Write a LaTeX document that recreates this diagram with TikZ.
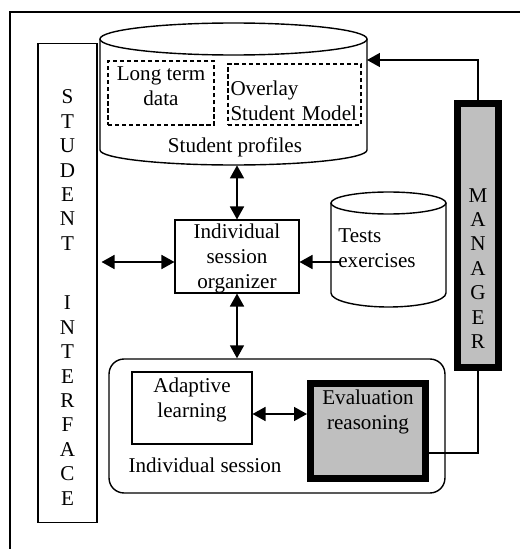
\documentclass[tikz,border=0pt]{standalone}
\usepackage{fontspec}
\setmainfont{Liberation Serif}
\usetikzlibrary{arrows.meta}

\tikzset{
  box/.style={draw, line width=0.6pt, align=center, inner sep=1pt},
  dashbox/.style={draw, dash pattern=on 2.4pt off 1.6pt, line width=0.6pt, align=center, inner sep=1pt},
  heavy/.style={draw, line width=4pt, fill=black!25, align=center},
  letters/.style={align=center, inner sep=0pt, font=\fontsize{12}{13.9}\selectfont},
  drum/.style={line width=0.8pt},
  arr/.style={-{Triangle[length=0.26cm,width=0.28cm]}, line width=0.9pt},
  dblarr/.style={{Triangle[length=0.26cm,width=0.28cm]}-{Triangle[length=0.26cm,width=0.28cm]}, line width=0.9pt}
}

\begin{document}
\begin{tikzpicture}[x=0.02cm, y=0.02cm, font=\fontsize{12}{14.2}\selectfont]
  \useasboundingbox (0,0) rectangle (520,549);
  % Marco
  \draw[line width=1.7pt] (10,0) -- (10,537) -- (520,537);

  % Nodos
  \draw[drum] (233.5,510) ellipse [x radius=133.5, y radius=16];
  \draw[drum] (100,510) -- (100,399) arc [start angle=180, end angle=360, x radius=133.5, y radius=15] -- (367,510);
  \node[minimum width=5.34cm, minimum height=2.84cm] (prof) at (233.5,455) {};
  \node[dashbox, minimum width=2.12cm, minimum height=1.28cm, text depth=8pt] (ltd) at (161,456) {Long term\\data};
  \node[dashbox, minimum width=2.66cm, minimum height=1.22cm, text depth=7pt, align=left, text width=2.56cm] (osm) at (294.5,454.5) {Overlay\\Student Model};
  \node (proflbl) at (235,402) {Student profiles};

  \draw[drum] (388.5,346) ellipse [x radius=57.5, y radius=11];
  \draw[drum] (331,346) -- (331,256) arc [start angle=180, end angle=360, x radius=57.5, y radius=14] -- (446,346);
  \node[align=left] (tests) at (377,300.5) {Tests\\exercises};
  \coordinate (tstin) at (340,287);

  \node[box, minimum width=1.18cm, minimum height=9.6cm] (ui) at (67.5,266) {};
  \node[letters] (uitxt) at (67.5,251.5) {S\\T\\U\\D\\E\\N\\T\\[20pt]I\\N\\T\\E\\R\\F\\A\\C\\E};

  \node[box, minimum width=2.48cm, minimum height=1.46cm, text depth=-3pt] (org) at (237,292.5) {Individual\\session\\organizer};

  \node[draw, line width=0.8pt, rounded corners=0.3cm, minimum width=6.72cm, minimum height=2.68cm] (sess) at (277,123) {};
  \node[box, minimum width=2.4cm, minimum height=1.44cm, text depth=12pt] (adapt) at (192,141) {Adaptive\\learning};
  \node (sesslbl) at (205,84) {Individual session};
  \node[heavy, minimum width=2.3cm, minimum height=1.9cm, text depth=24pt] (eval) at (368,118) {Evaluation\\reasoning};

  \node[heavy, minimum width=0.82cm, minimum height=5.28cm] (mgr) at (478,313.5) {};
  \node[letters] (mgrtxt) at (478,280.5) {M\\A\\N\\A\\G\\E\\R};
  \coordinate (profin) at (367,489);

  % Aristas
  \draw[dblarr] (org.north) -- (org.north |- prof.south);
  \draw[dblarr] (org.south) -- (org.south |- sess.north);
  \draw[dblarr, shorten <=0.08cm] (ui.east |- tstin) -- (tstin -| org.west);
  \draw[arr] (tstin) -- (tstin -| org.east);
  \draw[dblarr] ([yshift=-0.12cm]adapt.east) -- ([yshift=-0.12cm]adapt.east -| eval.west);
  \draw[arr] (mgr.north) |- (profin);
  \draw[line width=0.8pt] ([yshift=-0.44cm]eval.east) -| (mgr.south);
\end{tikzpicture}
\end{document}
